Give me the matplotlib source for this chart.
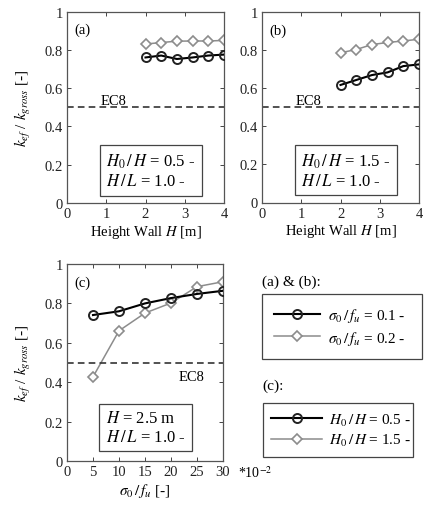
import matplotlib
matplotlib.use("Agg")
import matplotlib.pyplot as plt

plt.rcParams['font.family'] = ['Liberation Serif', 'DejaVu Serif']
plt.rcParams['mathtext.fontset'] = 'stix'
plt.rcParams['font.size'] = 10

# ---- data ----
wall_height = [2.0, 2.4, 2.8, 3.2, 3.6, 4.0]
a_s01 = [0.76, 0.77, 0.752, 0.76, 0.77, 0.775]
a_s02 = [0.83, 0.838, 0.845, 0.846, 0.846, 0.849]
b_s01 = [0.617, 0.643, 0.669, 0.683, 0.716, 0.725]
b_s02 = [0.786, 0.803, 0.829, 0.840, 0.848, 0.857]
stress_ratio = [5, 10, 15, 20, 25, 30]  # *10^-2
c_h05 = [0.741, 0.760, 0.800, 0.827, 0.848, 0.864]
c_h15 = [0.427, 0.661, 0.751, 0.802, 0.885, 0.910]
ec8 = 0.5
yticks = [0, 0.2, 0.4, 0.6, 0.8, 1.0]
ytick_labels = ['0', '0.2', '0.4', '0.6', '0.8', '1']
xticks_ab = [0, 1, 2, 3, 4]
xticks_c = [0, 5, 10, 15, 20, 25, 30]

W, H = 424, 506
fig = plt.figure(figsize=(W / 100, H / 100), dpi=100)

def fx(px):
    return px / W

def fy(py):
    return 1 - py / H

ax_a = fig.add_axes([fx(67), fy(204), fx(157), fy(12.5) - fy(204)])
ax_b = fig.add_axes([fx(262), fy(203.5), fx(157), fy(13) - fy(203.5)])
ax_c = fig.add_axes([fx(67), fy(462), fx(156), fy(265) - fy(462)])

black_kw = dict(color='black', lw=1.5, marker='o', ms=6.5, mfc='none', mec='#222222', mew=1.4)
gray_kw = dict(color='#8c8c8c', lw=1.1, marker='D', ms=5.5, mfc='white', mec='#8c8c8c', mew=1.2)

spine_col = '#555555'
box_kw = dict(boxstyle='square,pad=0.4', fc='white', ec='#444444', lw=0.9)

def style(ax):
    ax.set_ylim(0, 1)
    ax.set_yticks(yticks)
    ax.set_yticklabels(ytick_labels)
    ax.tick_params(direction='in', top=True, right=True, length=3, width=0.7,
                   colors='#444444', labelcolor='#222222', labelsize=10.5, pad=3)
    for s in ax.spines.values():
        s.set_color(spine_col)
        s.set_linewidth(0.9)
    ax.set_ylabel(r'$k_{ef}$ / $k_{gross}$ [-]', fontsize=11, labelpad=8)

# panel (a)
ax_a.plot(wall_height, a_s01, **black_kw, zorder=3, label=r'$\sigma_0\,/\,f_u$ = 0.1 -')
ax_a.plot(wall_height, a_s02, **gray_kw, zorder=2, label=r'$\sigma_0\,/\,f_u$ = 0.2 -')
ax_a.axhline(ec8, color='#333333', ls=(0, (4, 2.5)), lw=1.2)
ax_a.set_xlim(0, 4)
ax_a.set_xticks(xticks_ab)
style(ax_a)
ax_a.set_xlabel(r'Height Wall $H$ [m]', fontsize=10.5, labelpad=2)
ax_a.text(0.85, 0.515, 'EC8', fontsize=10.5)
ax_a.text(0.05, 0.94, '(a)', transform=ax_a.transAxes, fontsize=10.5, va='top')
ax_a.text(0.25, 0.17, '$H_0\\,/\\,H$ = 0.5 -\n$H\\,/\\,L$ = 1.0 -', transform=ax_a.transAxes,
          fontsize=12, va='center', ha='left', linespacing=1.2, bbox=box_kw)

# panel (b)
ax_b.plot(wall_height, b_s01, **black_kw, zorder=3)
ax_b.plot(wall_height, b_s02, **gray_kw, zorder=2)
ax_b.axhline(ec8, color='#333333', ls=(0, (4, 2.5)), lw=1.2)
ax_b.set_xlim(0, 4)
ax_b.set_xticks(xticks_ab)
style(ax_b)
ax_b.set_ylabel('')
ax_b.set_xlabel(r'Height Wall $H$ [m]', fontsize=10.5, labelpad=2)
ax_b.text(0.85, 0.515, 'EC8', fontsize=10.5)
ax_b.text(0.05, 0.94, '(b)', transform=ax_b.transAxes, fontsize=10.5, va='top')
ax_b.text(0.25, 0.17, '$H_0\\,/\\,H$ = 1.5 -\n$H\\,/\\,L$ = 1.0 -', transform=ax_b.transAxes,
          fontsize=12, va='center', ha='left', linespacing=1.2, bbox=box_kw)

# panel (c)
ax_c.plot(stress_ratio, c_h05, **black_kw, zorder=3, label=r'$H_0\,/\,H$ = 0.5 -')
ax_c.plot(stress_ratio, c_h15, **gray_kw, zorder=2, label=r'$H_0\,/\,H$ = 1.5 -')
ax_c.axhline(ec8, color='#333333', ls=(0, (4, 2.5)), lw=1.2)
ax_c.set_xlim(0, 30)
ax_c.set_xticks(xticks_c)
style(ax_c)
ax_c.set_xlabel(r'$\sigma_0\,/\,f_u$ [-]', fontsize=11, labelpad=2)
ax_c.text(21.5, 0.41, 'EC8', fontsize=10.5)
ax_c.text(0.05, 0.94, '(c)', transform=ax_c.transAxes, fontsize=10.5, va='top')
ax_c.text(0.25, 0.17, '$H$ = 2.5 m\n$H\\,/\\,L$ = 1.0 -', transform=ax_c.transAxes,
          fontsize=12, va='center', ha='left', linespacing=1.2, bbox=box_kw)
ax_c.text(1.095, -0.055, r'*10$^{-2}$', transform=ax_c.transAxes, fontsize=10, va='center', ha='left')

# legends
fig.text(fx(262), fy(282), '(a) & (b):', fontsize=11, va='center', ha='left')
h_ab, l_ab = ax_a.get_legend_handles_labels()
leg1 = fig.legend(h_ab, l_ab, loc='upper left',
                  bbox_to_anchor=(fx(262), fy(361), fx(160), fy(295) - fy(361)),
                  bbox_transform=fig.transFigure, mode='expand', borderaxespad=0,
                  fancybox=False, edgecolor='#444444', framealpha=1, fontsize=11,
                  handlelength=3.0, borderpad=0.8, labelspacing=0.3, handletextpad=0.5)
leg1.get_frame().set_linewidth(0.9)

fig.text(fx(262), fy(386), '(c):', fontsize=11, va='center', ha='left')
h_c, l_c = ax_c.get_legend_handles_labels()
leg2 = fig.legend(h_c, l_c, loc='upper left',
                  bbox_to_anchor=(fx(263), fy(462), fx(150), fy(404) - fy(462)),
                  bbox_transform=fig.transFigure, mode='expand', borderaxespad=0,
                  fancybox=False, edgecolor='#444444', framealpha=1, fontsize=11,
                  handlelength=3.3, borderpad=0.55, labelspacing=0.3, handletextpad=0.5)
leg2.get_frame().set_linewidth(0.9)

fig.savefig('out.png', dpi=100, facecolor='white')
